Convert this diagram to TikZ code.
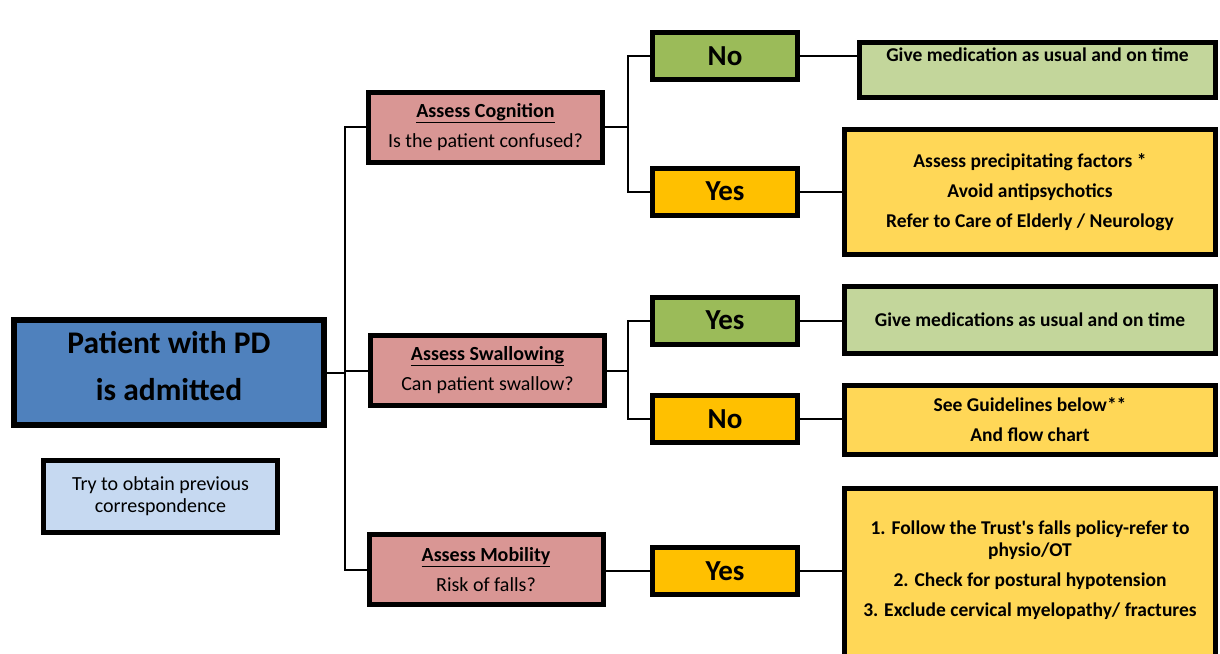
\documentclass[tikz,border=0pt]{standalone}
\usepackage{fontspec}
\setmainfont{Carlito}
\usepackage{xcolor}
\definecolor{pdblue}{HTML}{4F81BD}
\definecolor{pdlightblue}{HTML}{C6D9F1}
\definecolor{pdpink}{HTML}{D99694}
\definecolor{pdgreen}{HTML}{9BBB59}
\definecolor{pdorange}{HTML}{FFC000}
\definecolor{pdlightgreen}{HTML}{C3D69B}
\definecolor{pdyellow}{HTML}{FFD757}

\begin{document}
\begin{tikzpicture}[x=1pt, y=-1pt, line width=2pt,
      box/.style={draw, line width=5pt, align=center, inner sep=2pt},
      assess/.style={box, fill=pdpink, minimum width=234pt, minimum height=70pt, font=\fontsize{20}{30}\selectfont},
      answer/.style={box, minimum width=145pt, minimum height=47pt, font=\fontsize{29}{30}\selectfont\bfseries},
      result/.style={box, minimum width=371pt, font=\fontsize{19.5}{30}\selectfont\bfseries}]

                  \useasboundingbox (0,0) rectangle (1220,653);

                  \draw (169,372.5) node[box, line width=6pt, fill=pdblue, minimum width=310pt, minimum height=105pt, font=\fontsize{31.5}{47}\selectfont\bfseries] (main) {Patient with PD\\is admitted\\[-33pt]~};
                  \draw (160.5,496.5) node[box, fill=pdlightblue, minimum width=234pt, minimum height=72pt, font=\fontsize{20}{22}\selectfont] (prev) {Try to obtain previous\\correspondence};

                  \draw (485.5,127) node[assess] (cog) {\underline{\textbf{Assess Cognition}}\\Is the patient confused?};
                  \draw (487.5,370.5) node[assess] (swal) {\underline{\textbf{Assess Swallowing}}\\Can patient swallow?};
                  \draw (486,569.5) node[assess] (mob) {\underline{\textbf{Assess Mobility}}\\Risk of falls?};

                  \draw (725,56) node[answer, fill=pdgreen] (cogno) {No};
                  \draw (725,191.5) node[answer, fill=pdorange] (cogyes) {Yes};
                  \draw (725,320.5) node[answer, fill=pdgreen] (swalyes) {Yes};
                  \draw (725,419) node[answer, fill=pdorange] (swalno) {No};
                  \draw (725,571) node[answer, fill=pdorange] (mobyes) {Yes};

                  \draw (1037.5,70) node[result, fill=pdlightgreen, minimum width=356pt, minimum height=55pt] (cognores) {Give medication as usual and on time\\~};
                  \draw (1030,192) node[result, fill=pdyellow, minimum height=125pt] (cogyesres) {Assess precipitating factors *\\Avoid antipsychotics\\Refer to Care of Elderly / Neurology};
                  \draw (1030,320) node[result, fill=pdlightgreen, minimum height=67pt] (swalyesres) {Give medications as usual and on time};
                  \draw (1030,420) node[result, fill=pdyellow, minimum height=69pt] (swalnores) {See Guidelines below**\\And flow chart};
                  \draw (1030,573) node[result, fill=pdyellow, minimum height=169pt] (mobyesres) {1. Follow the Trust\textquotesingle s falls policy-refer to\\[-8pt]physio/OT\\2. Check for postural hypotension\\3. Exclude cervical myelopathy/ fractures\\[-22pt]~};

                  \coordinate (trunk) at (345,370.5);
                  \coordinate (cogsplit) at (628,127);
                  \coordinate (swalsplit) at (628,370.5);

                  \draw (main.east) -- (main.east -| trunk);
                  \draw (cog.west) -| (trunk) |- (mob.west);
                  \draw (trunk) -- (swal.west);

                  \draw (cog.east) -- (cogsplit);
                  \draw (cogno.west) -| (cogsplit) |- (cogyes.west);
                  \draw (swal.east) -- (swalsplit);
                  \draw (swalyes.west) -| (swalsplit) |- (swalno.west);
                  \draw (mob.east |- mobyes.west) -- (mobyes.west);

                  \draw (cogno.east) -- (cogno.east -| cognores.west);
                  \draw (cogyes.east) -- (cogyes.east -| cogyesres.west);
                  \draw (swalyes.east) -- (swalyes.east -| swalyesres.west);
                  \draw (swalno.east) -- (swalno.east -| swalnores.west);
                  \draw (mobyes.east) -- (mobyes.east -| mobyesres.west);

                \end{tikzpicture}
\end{document}
